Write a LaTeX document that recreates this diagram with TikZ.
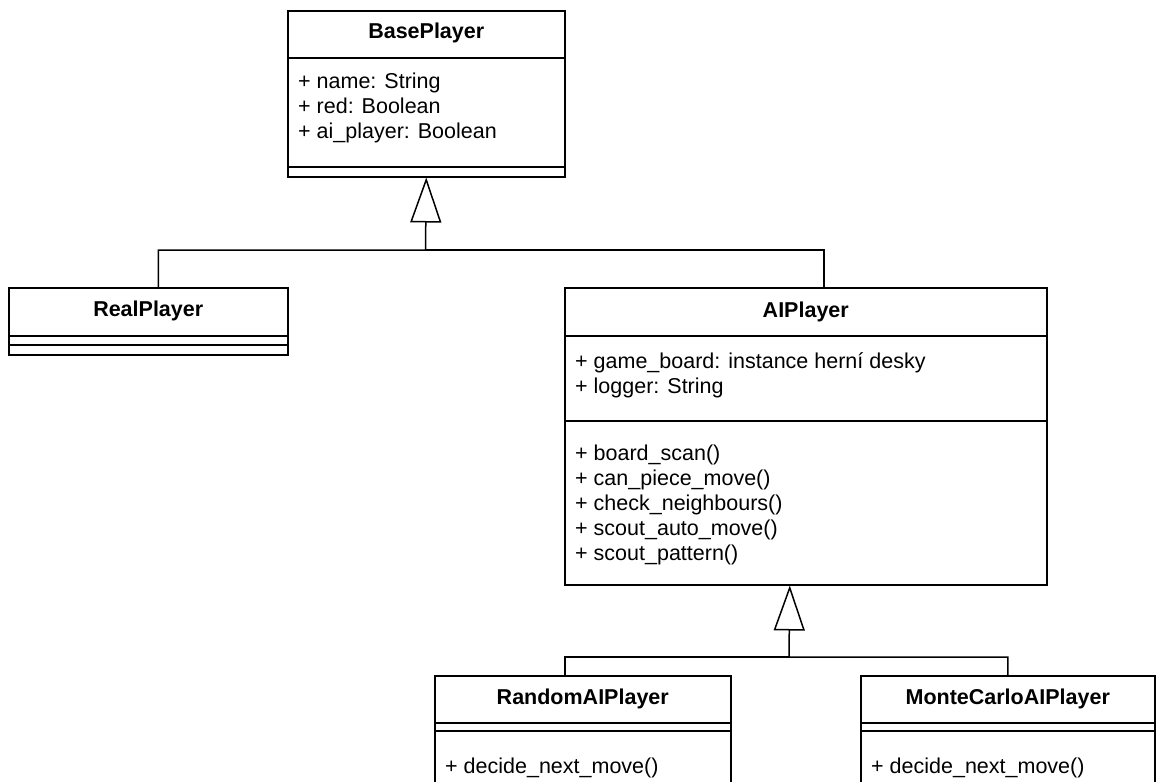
\documentclass[tikz,border=0pt]{standalone}
\usepackage{fontspec}
\setmainfont{Liberation Sans}
\usetikzlibrary{arrows.meta, positioning}

\tikzset{
  classbox/.style={draw, line width=1.5pt, rectangle, inner sep=0pt, anchor=north west},
  classname/.style={font=\fontsize{21.5}{25}\selectfont\bfseries, inner sep=0pt},
  member/.style={font=\fontsize{21.5}{25}\selectfont, anchor=west, inner sep=0pt, text height=15.5pt, text depth=4.5pt},
  sep/.style={line width=1.5pt},
  link/.style={line width=1.5pt},
  gen/.style={line width=1.5pt, -{Triangle[open, length=45pt, width=31pt, line width=1.5pt]}},
}

\begin{document}
\begin{tikzpicture}[x=1pt, y=-1pt]
    \clip (0,0) rectangle (1157,782);
    % BasePlayer
    \node[classbox, minimum width=277pt, minimum height=166pt] (base) at (287,10) {};
    \node[classname] (basename) at (base.north |- 0,33) {BasePlayer};
    \draw[sep] (287,58) -- (564,58);
    \node[member] (basea1) at (298,83) {+ name: String};
    \node[member] (basea2) at (298,108) {+ red: Boolean};
    \node[member] (basea3) at (298,133) {+ ai\_player: Boolean};
    \draw[sep] (287,167) -- (564,167);

    % RealPlayer
    \node[classbox, minimum width=279pt, minimum height=67pt] (real) at (8,287) {};
    \node[classname] (realname) at (real.north |- 0,311) {RealPlayer};
    \draw[sep] (8,336) -- (287,336);
    \draw[sep] (8,345) -- (287,345);

    % AIPlayer
    \node[classbox, minimum width=482pt, minimum height=297pt] (ai) at (564,287) {};
    \node[classname] (ainame) at (ai.north |- 0,312) {AIPlayer};
    \draw[sep] (564,336) -- (1046,336);
    \node[member] (aia1) at (575,363) {+ game\_board: instance herní desky};
    \node[member] (aia2) at (575,388) {+ logger: String};
    \draw[sep] (564,421) -- (1046,421);
    \node[member] (aim1) at (575,455) {+ board\_scan()};
    \node[member] (aim2) at (575,480) {+ can\_piece\_move()};
    \node[member] (aim3) at (575,505) {+ check\_neighbours()};
    \node[member] (aim4) at (575,530) {+ scout\_auto\_move()};
    \node[member] (aim5) at (575,555) {+ scout\_pattern()};

    % RandomAIPlayer
    \node[classbox, minimum width=296pt, minimum height=130pt] (rand) at (434,675) {};
    \node[classname] (randname) at (rand.north |- 0,699) {RandomAIPlayer};
    \draw[sep] (434,723) -- (730,723);
    \draw[sep] (434,731) -- (730,731);
    \node[member] (randm1) at (445,768) {+ decide\_next\_move()};

    % MonteCarloAIPlayer
    \node[classbox, minimum width=294pt, minimum height=130pt] (mc) at (860,675) {};
    \node[classname] (mcname) at (mc.north |- 0,699) {MonteCarloAIPlayer};
    \draw[sep] (860,723) -- (1154,723);
    \draw[sep] (860,731) -- (1154,731);
    \node[member] (mcm1) at (871,768) {+ decide\_next\_move()};

    % generalisation
    \coordinate (j1) at (425.5,250);
    \coordinate (j2) at (789,657);
    \draw[gen] ([xshift=10pt]real.north) |- (j1) -- (base.south);
    \draw[link] ([xshift=18pt]ai.north) |- (j1);
    \draw[gen] (mc.north) |- (j2) -- ([xshift=-16pt]ai.south);
    \draw[link] ([xshift=-18pt]rand.north) |- (j2);
\end{tikzpicture}
\end{document}
